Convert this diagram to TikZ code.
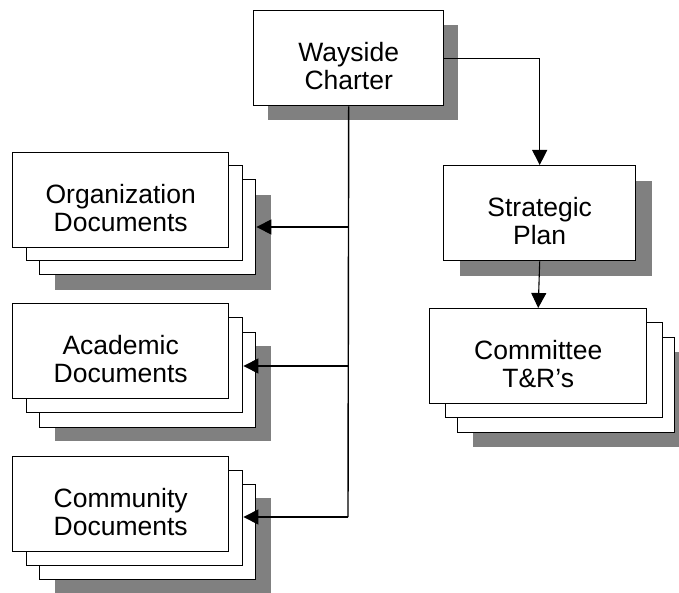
\documentclass[tikz,border=0pt]{standalone}
\usepackage{fontspec}
\setmainfont{Liberation Sans}
\usetikzlibrary{arrows.meta}
\begin{document}
\begin{tikzpicture}[x=1pt,y=-1pt,
  box/.style={draw=black, fill=white, line width=1.4pt, anchor=north west, inner sep=0pt,
    minimum width=#1, minimum height=95pt},
  box/.default=216pt,
  shade/.style={fill=black!50, draw=none, anchor=north west, inner sep=0pt,
    minimum width=#1, minimum height=95pt},
  shade/.default=216pt,
  lbl/.style={align=center, font=\fontsize{26.5}{28.5}\selectfont, yshift=-8pt},
  trunk/.style={line width=1.4pt},
  arr/.style={line width=1.1pt, -{Triangle[length=15pt,width=15pt]}}
]
\useasboundingbox (0,0) rectangle (679,593);

% Wayside Charter
\node[shade=190pt] (Wsh) at (268,25) {};
\node[box=190pt] (W) at (253,10) {};
\node[lbl] (Wt) at (W.center) {Wayside\\Charter};

% Strategic Plan
\node[shade=192pt] (Ssh) at (460,181) {};
\node[box=192pt] (S) at (443,165) {};
\node[lbl] (St) at (S.center) {Strategic\\Plan};

% Committee T&R's
\node[shade=217pt] (Csh) at (473,352) {};
\node[box=217pt] (C3) at (457,337) {};
\node[box=217pt] (C2) at (445,322) {};
\node[box=217pt] (C) at (429,308) {};
\node[lbl] (Ct) at (C.center) {Committee\\T\&R’s};

% Organization Documents
\node[shade] (Osh) at (55,195) {};
\node[box] (O3) at (39,179) {};
\node[box] (O2) at (26,165) {};
\node[box] (O) at (12,152) {};
\node[lbl] (Ot) at (O.center) {Organization\\Documents};

% Academic Documents
\node[shade] (Ash) at (55,346) {};
\node[box] (A3) at (39,332) {};
\node[box] (A2) at (26,317) {};
\node[box] (A) at (12,303) {};
\node[lbl] (At) at (A.center) {Academic\\Documents};

% Community Documents
\node[shade] (Msh) at (55,498) {};
\node[box] (M3) at (39,484) {};
\node[box] (M2) at (26,470) {};
\node[box] (M) at (12,456) {};
\node[lbl] (Mt) at (M.center) {Community\\Documents};

% trunk
\coordinate (t1) at (348,227);
\coordinate (t2) at (348,366);
\coordinate (t3) at (348,517);
\draw[trunk] (W.south) -- (t3);
\draw[arr] (t1) -- (t1 -| O3.east);
\draw[arr] (t2) -- (t2 -| A2.east);
\draw[arr] (t3) -- (t3 -| M2.east);

% right branch
\draw[arr] (W.east) -| (S.north);
\draw[arr] (S.south) -- (C.north);
\end{tikzpicture}
\end{document}
